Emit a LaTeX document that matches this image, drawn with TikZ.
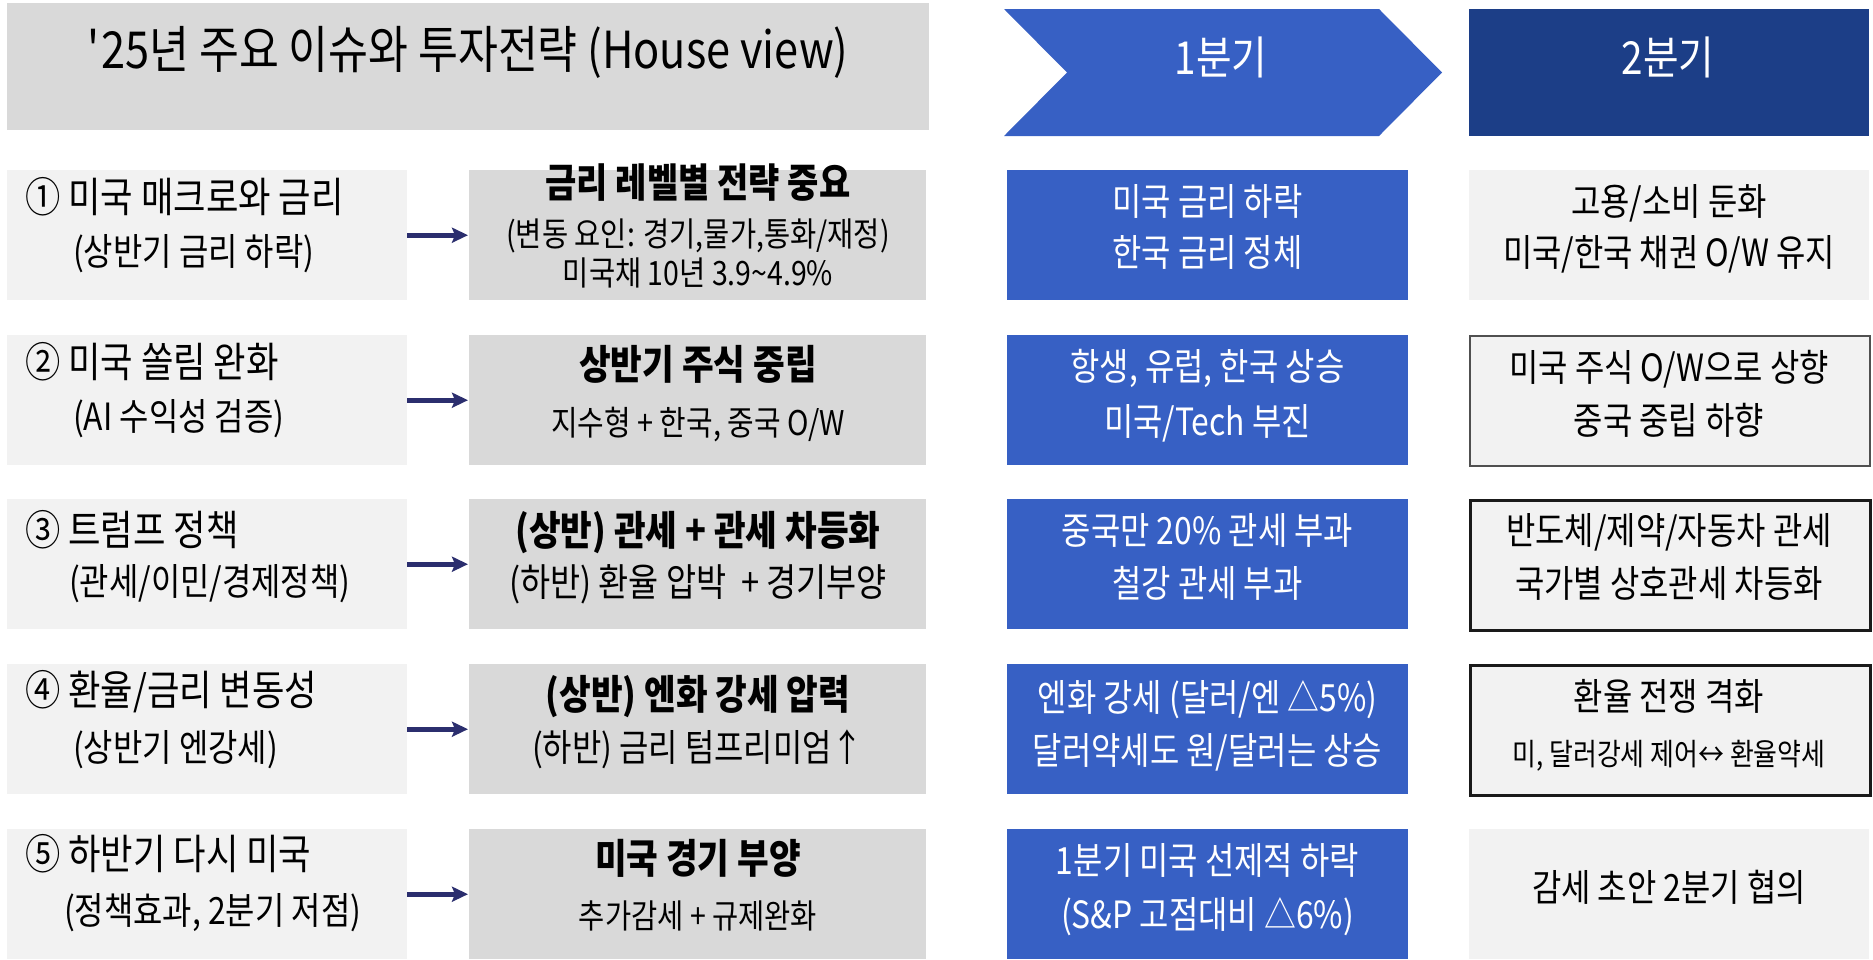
\documentclass[tikz,border=0pt]{standalone}
\usepackage{fontspec}
\setmainfont{Noto Sans CJK KR}[FakeStretch=0.85]
\usetikzlibrary{arrows.meta}
\definecolor{titlegray}{HTML}{D9D9D9}
\definecolor{lightbox}{HTML}{F2F2F2}
\definecolor{midbox}{HTML}{D9D9D9}
\definecolor{qblue}{HTML}{3760C4}
\definecolor{qnavy}{HTML}{1C3E87}
\definecolor{arrnavy}{HTML}{2B2E6E}
\definecolor{bordergray}{HTML}{505050}
\definecolor{borderblack}{HTML}{1A1A1A}
\begin{document}
\begin{tikzpicture}[x=1pt,y=-1pt,
  boxbase/.style={anchor=north west, inner sep=0pt, minimum height=130pt},
  leftbox/.style={boxbase, fill=lightbox, minimum width=400pt},
  midbox/.style={boxbase, fill=midbox, minimum width=457pt},
  bluebox/.style={boxbase, fill=qblue, minimum width=401pt},
  rightbox/.style={boxbase, fill=lightbox, minimum width=400pt},
  rightgray/.style={rightbox, draw=bordergray, line width=2pt},
  rightblack/.style={rightbox, draw=borderblack, line width=2.5pt},
  fs/.style={font=\fontsize{#1}{#1}\selectfont},
  fsb/.style={font=\bfseries\fontsize{#1}{#1}\selectfont},
  tx/.style={inner sep=0pt, text height=0.8em, text depth=0.1em},
  la/.style={tx, anchor=west, fs=41.5},
  lb/.style={tx, anchor=west, fs=37.5},
  mb/.style={tx, fsb=40.5},
  ms/.style={tx, fs=#1},
  bt/.style={tx, fs=37.5, text=white},
  rt/.style={tx, fs=37.5},
  conn/.style={draw=arrnavy, line width=5pt, -{Stealth[length=16pt,width=15pt,inset=3pt]}, shorten >=1pt}
]
\useasboundingbox (0,0) rectangle (1873,959);

% header
\node[anchor=north west, inner sep=0pt, fill=titlegray, minimum width=922pt, minimum height=127pt] (T) at (7,3) {};
\node[tx, fs=51] (Tt) at (468,65) {\textquotesingle 25년 주요 이슈와 투자전략 (House view)};
\fill[qblue] (1004,9) -- (1379,9) -- (1442,72.5) -- (1379,136) -- (1004,136) -- (1067,72.5) -- cycle;
\node[tx, fs=45.5, text=white] (Q1) at (1221,71) {1분기};
\node[anchor=north west, inner sep=0pt, fill=qnavy, minimum width=400pt, minimum height=127pt] (Q2) at (1469,9) {};
\node[tx, fs=45.5, text=white] (Q2t) at (1668,71) {2분기};

% row boxes
\node[leftbox] (L1) at (7,170) {};
\node[leftbox] (L2) at (7,335) {};
\node[leftbox] (L3) at (7,499) {};
\node[leftbox] (L4) at (7,664) {};
\node[leftbox] (L5) at (7,829) {};
\node[midbox] (M1) at (469,170) {};
\node[midbox] (M2) at (469,335) {};
\node[midbox] (M3) at (469,499) {};
\node[midbox] (M4) at (469,664) {};
\node[midbox] (M5) at (469,829) {};
\node[bluebox] (B1) at (1007,170) {};
\node[bluebox] (B2) at (1007,335) {};
\node[bluebox] (B3) at (1007,499) {};
\node[bluebox] (B4) at (1007,664) {};
\node[bluebox] (B5) at (1007,829) {};
\node[rightbox] (R1) at (1469,170) {};
\node[rightgray] (R2) at (1469,335) {};
\node[rightblack] (R3) at (1469,499) {};
\node[rightblack] (R4) at (1469,664) {};
\node[rightbox] (R5) at (1469,829) {};

% connectors
\foreach \i in {1,...,5} { \draw[conn] (L\i.east) -- (M\i.west); }

% left texts
\node[la] (L1a) at (25,209) {① 미국 매크로와 금리};
\node[lb] (L1b) at (73,262) {(상반기 금리 하락)};
\node[la] (L2a) at (25,374) {② 미국 쏠림 완화};
\node[lb] (L2b) at (73,427) {(AI 수익성 검증)};
\node[la] (L3a) at (25,542) {③ 트럼프 정책};
\node[lb] (L3b) at (69,592) {(관세/이민/경제정책)};
\node[la] (L4a) at (25,702) {④ 환율/금리 변동성};
\node[lb] (L4b) at (73,758) {(상반기 엔강세)};
\node[la] (L5a) at (25,866) {⑤ 하반기 다시 미국};
\node[lb] (L5b) at (64,921) {(정책효과, 2분기 저점)};

% middle texts
\node[tx, fsb=40] (M1a) at (698,194) {금리 레벨별 전략 중요};
\node[ms=33.5] (M1b) at (698,243) {(변동 요인: 경기,물가,통화/재정)};
\node[ms=33.5] (M1c) at (698,282) {미국채 10년 3.9\textasciitilde 4.9\%};
\node[mb] (M2a) at (698,376) {상반기 주식 중립};
\node[ms=34] (M2b) at (698,432) {지수형 + 한국, 중국 O/W};
\node[mb] (M3a) at (698,542) {(상반) 관세 + 관세 차등화};
\node[ms=38.5] (M3b) at (698,593) {(하반) 환율 압박 \ + 경기부양};
\node[mb] (M4a) at (698,706) {(상반) 엔화 강세 압력};
\node[ms=37.5] (M4b) at (698,758) {(하반) 금리 텀프리미엄↑};
\node[mb] (M5a) at (698,870) {미국 경기 부양};
\node[ms=33.5] (M5b) at (698,925) {추가감세 + 규제완화};

% blue texts
\node[bt] (B1a) at (1207.5,212) {미국 금리 하락};
\node[bt] (B1b) at (1207.5,263) {한국 금리 정체};
\node[bt] (B2a) at (1207.5,377) {항생, 유럽, 한국 상승};
\node[bt] (B2b) at (1207.5,432) {미국/Tech 부진};
\node[bt] (B3a) at (1207.5,541) {중국만 20\% 관세 부과};
\node[bt] (B3b) at (1207.5,594) {철강 관세 부과};
\node[bt] (B4a) at (1207.5,708) {엔화 강세 (달러/엔 △5\%)};
\node[bt] (B4b) at (1207.5,761) {달러약세도 원/달러는 상승};
\node[bt] (B5a) at (1207.5,871) {1분기 미국 선제적 하락};
\node[bt] (B5b) at (1207.5,925) {(S\&P 고점대비 △6\%)};

% right texts
\node[rt] (R1a) at (1669,212) {고용/소비 둔화};
\node[rt] (R1b) at (1669,263) {미국/한국 채권 O/W 유지};
\node[rt] (R2a) at (1669,378) {미국 주식 O/W으로 상향};
\node[rt] (R2b) at (1669,431) {중국 중립 하향};
\node[rt] (R3a) at (1669,541) {반도체/제약/자동차 관세};
\node[rt] (R3b) at (1669,594) {국가별 상호관세 차등화};
\node[rt] (R4a) at (1669,707) {환율 전쟁 격화};
\node[tx, fs=30.5] (R4b) at (1669,762) {미, 달러강세 제어↔ 환율약세};
\node[rt] (R5a) at (1669,898) {감세 초안 2분기 협의};
\end{tikzpicture}
\end{document}
